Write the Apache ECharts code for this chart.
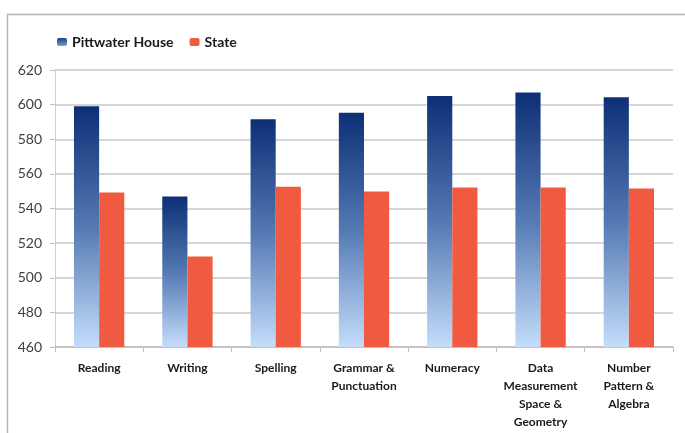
<!DOCTYPE html>
<html>
<head>
<meta charset="utf-8">
<script src="https://cdn.jsdelivr.net/npm/echarts@6/dist/echarts.min.js"></script>
<style>
html,body{margin:0;padding:0;background:#fff;}
#chart{width:685px;height:433px;}
</style>
</head>
<body>
<div id="chart"></div>
<script>
var categories = ["Reading", "Writing", "Spelling", "Grammar &\nPunctuation", "Numeracy", "Data\nMeasurement\nSpace &\nGeometry", "Number\nPattern &\nAlgebra"];
var pittwater = [599, 547, 591.5, 595.3, 605, 607, 604.2];
var state = [549.3, 512.3, 552.6, 549.8, 552.2, 552.2, 551.6];
var yTicks = {min: 460, max: 620, interval: 20};

var chart = echarts.init(document.getElementById('chart'));
var blueGrad = new echarts.graphic.LinearGradient(0, 0, 0, 1, [
  {offset: 0, color: '#0c2f76'},
  {offset: 0.5, color: '#5479b3'},
  {offset: 1, color: '#c4ddfa'}
]);
var legendGrad = new echarts.graphic.LinearGradient(0, 0, 0, 1, [
  {offset: 0, color: '#1a3f86'},
  {offset: 1, color: '#7a9fd4'}
]);
var fontFam = 'Lato, "Open Sans", sans-serif';
chart.setOption({
  animation: false,
  backgroundColor: '#fff',
  graphic: [{
    type: 'rect', left: 5, top: 12,
    shape: {width: 700, height: 500},
    style: {fill: 'none', stroke: '#b4b4b4', lineWidth: 1.5},
    silent: true
  }],
  legend: {
    left: 52, top: 30,
    itemWidth: 10, itemHeight: 8, itemGap: 16,
    textStyle: {fontFamily: fontFam, fontWeight: 'bold', fontSize: 14, color: '#1a1a1a'},
    data: [
      {name: 'Pittwater House', itemStyle: {color: legendGrad}},
      {name: 'State'}
    ]
  },
  grid: {left: 55, right: 12, top: 70, bottom: 86, containLabel: false},
  xAxis: {
    type: 'category',
    data: categories,
    axisLine: {lineStyle: {color: '#bdbdbd', width: 1.5}},
    axisTick: {show: true, length: 5, lineStyle: {color: '#bdbdbd'}},
    axisLabel: {
      interval: 0, margin: 12,
      fontFamily: fontFam, fontWeight: 'bold', fontSize: 12, color: '#1a1a1a',
      lineHeight: 18
    }
  },
  yAxis: {
    type: 'value',
    min: yTicks.min, max: yTicks.max, interval: yTicks.interval,
    axisLine: {show: true, lineStyle: {color: '#d0d0d0', width: 1}},
    axisTick: {show: true, length: 5, lineStyle: {color: '#bdbdbd'}},
    splitLine: {lineStyle: {color: '#c8c8c8', width: 1.5}},
    axisLabel: {margin: 13, fontFamily: fontFam, fontSize: 14, color: '#404040'}
  },
  series: [
    {
      name: 'Pittwater House', type: 'bar', data: pittwater,
      barGap: '0%', barCategoryGap: '43%',
      itemStyle: {color: blueGrad}
    },
    {
      name: 'State', type: 'bar', data: state,
      itemStyle: {color: '#f05a40'}
    }
  ]
});
</script>
</body>
</html>
